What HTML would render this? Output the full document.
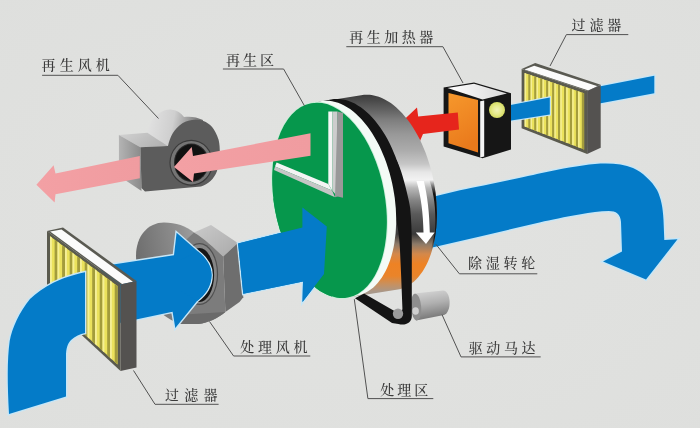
<!DOCTYPE html>
<html lang="zh-CN"><head><meta charset="utf-8"><title>转轮除湿机工作原理</title>
<style>html,body{margin:0;padding:0;background:#dfe0de;overflow:hidden}svg{display:block;filter:blur(0.55px)}</style></head>
<body>
<svg width="700" height="428" viewBox="0 0 700 428">
<defs>
<linearGradient id="gSilver" gradientUnits="userSpaceOnUse" x1="0" y1="92" x2="0" y2="292">
<stop offset="0.00" stop-color="#363636"/><stop offset="0.04" stop-color="#484848"/><stop offset="0.09" stop-color="#626262"/><stop offset="0.14" stop-color="#7e7e7e"/><stop offset="0.21" stop-color="#989898"/><stop offset="0.29" stop-color="#ababab"/><stop offset="0.36" stop-color="#c6c6c6"/><stop offset="0.40" stop-color="#e6e6e6"/><stop offset="0.44" stop-color="#f2f2f2"/><stop offset="0.48" stop-color="#b8b8b8"/><stop offset="0.54" stop-color="#858585"/><stop offset="0.61" stop-color="#5a5a5a"/><stop offset="0.71" stop-color="#3a3a3a"/><stop offset="0.76" stop-color="#8c7a68"/><stop offset="0.81" stop-color="#d4884a"/><stop offset="0.86" stop-color="#ee8224"/><stop offset="0.92" stop-color="#ea842a"/><stop offset="0.96" stop-color="#c8905e"/><stop offset="1.00" stop-color="#a8988a"/>
</linearGradient>
<linearGradient id="gStrip" gradientUnits="userSpaceOnUse" x1="0" y1="180" x2="0" y2="250">
<stop offset="0" stop-color="#111" stop-opacity="0"/><stop offset="0.2" stop-color="#111" stop-opacity="1"/><stop offset="0.8" stop-color="#111" stop-opacity="1"/><stop offset="1" stop-color="#111" stop-opacity="0"/>
</linearGradient>
<linearGradient id="gPink" x1="0" y1="0" x2="1" y2="0"><stop offset="0" stop-color="#f3a0a4"/><stop offset="1" stop-color="#f09ca0"/></linearGradient>
<linearGradient id="gFan1Top" x1="0" y1="0" x2="1" y2="0.4"><stop offset="0" stop-color="#d2d2d2"/><stop offset="1" stop-color="#b4b4b4"/></linearGradient>
<linearGradient id="gFan1Hump" gradientUnits="userSpaceOnUse" x1="150" y1="120" x2="200" y2="130"><stop offset="0" stop-color="#e0e0e0"/><stop offset="0.45" stop-color="#cfcfcf"/><stop offset="0.75" stop-color="#9a9a9a"/><stop offset="1" stop-color="#6a6a6a"/></linearGradient>
<linearGradient id="gFan1Side" x1="0" y1="0" x2="1" y2="0"><stop offset="0" stop-color="#b4b4b4"/><stop offset="1" stop-color="#8a8a8a"/></linearGradient>
<linearGradient id="gFan2" x1="0" y1="0.3" x2="1" y2="0"><stop offset="0" stop-color="#6e6e6e"/><stop offset="0.6" stop-color="#8e8e8e"/><stop offset="1" stop-color="#a8a8a8"/></linearGradient>
<linearGradient id="gFan2Top" x1="0" y1="0" x2="1" y2="1"><stop offset="0" stop-color="#cacaca"/><stop offset="1" stop-color="#aaaaaa"/></linearGradient>
<linearGradient id="gMotor" x1="0" y1="0" x2="0.2" y2="1"><stop offset="0" stop-color="#d8d8d8"/><stop offset="0.5" stop-color="#b0b0b0"/><stop offset="1" stop-color="#777"/></linearGradient>
<linearGradient id="gVr" x1="0" y1="0" x2="0" y2="1"><stop offset="0" stop-color="#b8b8b8"/><stop offset="1" stop-color="#8a8a8a"/></linearGradient>
<radialGradient id="gLamp"><stop offset="0" stop-color="#f1f2b8"/><stop offset="0.55" stop-color="#e6ea8c"/><stop offset="1" stop-color="#d6dc62"/></radialGradient>
<linearGradient id="gTopW" x1="0" y1="0" x2="1" y2="0"><stop offset="0" stop-color="#ffffff"/><stop offset="1" stop-color="#d8d8d8"/></linearGradient>
<linearGradient id="gOrange" x1="0" y1="0" x2="0.3" y2="1"><stop offset="0" stop-color="#f6982c"/><stop offset="1" stop-color="#ea7a1c"/></linearGradient>
<radialGradient id="gBg" cx="0.5" cy="0.5" r="0.75"><stop offset="0" stop-color="#e2e3e1"/><stop offset="1" stop-color="#dedfdd"/></radialGradient>
</defs>
<rect width="700" height="428" fill="url(#gBg)"/>
<polygon points="598,86.8 654.3,75.8 654.3,93.3 598,103.8" fill="#047bc8" stroke="#c6e6f7" stroke-width="2.6" paint-order="stroke"/>
<polygon points="521.6,69.1 535.2,62.89 600.7,84.8 587.1,91" fill="#5a5a52"/>
<polygon points="524.5,69.5 534.2,65.7 597.7,86.2 588.5,90.4" fill="#fbfbfb"/>
<polygon points="587.1,91 600.7,84.8 600.7,147.8 587.1,154" fill="#545250"/>
<polygon points="521.6,69.1 587.1,91 587.1,154 521.6,128.3" fill="#5a5a4e"/>
<polygon points="524.6,73.1 584.1,93.2 584.1,149.6 524.6,126.5" fill="#ebe25c"/>
<polygon points="528.3,74.4 530.6,75.1 530.6,128.8 528.3,127.9" fill="#a39c3c"/>
<polygon points="524.6,73.1 526.1,73.6 526.1,127.0 524.6,126.5" fill="#f5ef96"/>
<polygon points="534.2,76.4 536.5,77.1 536.5,131.1 534.2,130.2" fill="#a39c3c"/>
<polygon points="530.6,75.1 532.0,75.6 532.0,129.4 530.6,128.8" fill="#f5ef96"/>
<polygon points="540.2,78.4 542.5,79.1 542.5,133.4 540.2,132.5" fill="#a39c3c"/>
<polygon points="536.5,77.1 538.0,77.6 538.0,131.7 536.5,131.1" fill="#f5ef96"/>
<polygon points="546.1,80.4 548.4,81.1 548.4,135.7 546.1,134.9" fill="#a39c3c"/>
<polygon points="542.5,79.1 543.9,79.6 543.9,134.0 542.5,133.4" fill="#f5ef96"/>
<polygon points="552.1,82.4 554.4,83.1 554.4,138.1 552.1,137.2" fill="#a39c3c"/>
<polygon points="548.4,81.1 549.9,81.6 549.9,136.3 548.4,135.7" fill="#f5ef96"/>
<polygon points="558.0,84.4 560.3,85.2 560.3,140.4 558.0,139.5" fill="#a39c3c"/>
<polygon points="554.4,83.1 555.8,83.6 555.8,138.6 554.4,138.1" fill="#f5ef96"/>
<polygon points="564.0,86.4 566.2,87.2 566.2,142.7 564.0,141.8" fill="#a39c3c"/>
<polygon points="560.3,85.2 561.8,85.7 561.8,141.0 560.3,140.4" fill="#f5ef96"/>
<polygon points="569.9,88.4 572.2,89.2 572.2,145.0 569.9,144.1" fill="#a39c3c"/>
<polygon points="566.2,87.2 567.7,87.7 567.7,143.3 566.2,142.7" fill="#f5ef96"/>
<polygon points="575.9,90.4 578.1,91.2 578.1,147.3 575.9,146.4" fill="#a39c3c"/>
<polygon points="572.2,89.2 573.7,89.7 573.7,145.6 572.2,145.0" fill="#f5ef96"/>
<polygon points="581.8,92.4 584.1,93.2 584.1,149.6 581.8,148.8" fill="#a39c3c"/>
<polygon points="578.1,91.2 579.6,91.7 579.6,147.9 578.1,147.3" fill="#f5ef96"/>
<polygon points="508,105.5 549.8,97.4 549.8,114.6 508,121" fill="#047bc8" stroke="#c6e6f7" stroke-width="2.2" paint-order="stroke"/>
<polygon points="443.6,87.5 474,82.6 511,93.2 511,149.5 482.5,158.2 443.6,146.4" fill="#161616"/>
<polygon points="447.5,88 474,83.8 507,93.4 482.5,99.6" fill="url(#gTopW)"/>
<polygon points="448.5,93 478,100 478,152.5 448.5,143.3" fill="url(#gOrange)"/>
<polygon points="480.2,101.2 484.2,100.4 484.2,156.4 480.2,157.6" fill="#f4f4f4"/>
<circle cx="497" cy="110" r="8" fill="url(#gLamp)"/>
<polygon points="403.7,120 417,107.5 418.2,116.6 457.8,112.4 459,129.4 423,134 420,141" fill="#e6251c"/>
<path d="M430,197.5 L460,190.2 C480,186.5 520,178 540.5,173.3 C560,169 580,165.3 595,164 C610,162.8 623,164 633,168 C642,172 652,181 657,190 C661,198 663,208 663.5,220 L664.3,240 L677.5,239.3 L646,279.5 L603,261.5 L622,251.5 L621,222 C620.5,214 616,211 608.8,211 C600,211 590,212.3 580.7,214.3 C565,217 550,220 540.5,222.3 L480,236.4 L430,248 Z" fill="#047bc8" stroke="#c6e6f7" stroke-width="2.8" paint-order="stroke"/>
<path d="M272.1,180.1 L272.2,175.2 L272.4,170.3 L272.7,165.4 L273.3,160.7 L273.9,156.1 L274.7,151.6 L275.7,147.2 L276.8,143.0 L278.1,138.9 L279.5,135.1 L281.0,131.3 L282.7,127.8 L284.5,124.5 L286.4,121.4 L288.5,118.5 L290.6,115.8 L292.9,113.4 L295.2,111.1 L297.7,109.2 L300.2,107.5 L302.9,106.0 L305.6,104.8 L308.3,103.9 L311.1,103.2 L361.1,95.2 L364.0,94.8 L366.9,94.7 L369.9,94.8 L372.8,95.2 L375.8,95.9 L378.8,96.8 L381.8,98.0 L384.8,99.4 L387.8,101.2 L390.8,103.1 L393.7,105.3 L396.6,107.7 L399.4,110.4 L402.2,113.3 L404.9,116.4 L407.6,119.7 L410.2,123.3 L412.7,127.0 L415.1,130.9 L417.4,134.9 L419.6,139.1 L421.7,143.5 L423.6,148.0 L425.5,152.6 L427.2,157.3 L428.8,162.2 L430.3,167.1 L431.6,172.0 L432.8,177.1 L433.8,182.1 L434.7,187.2 L435.5,192.3 L436.0,197.5 L436.5,202.6 L436.7,207.6 L436.9,212.7 L436.8,217.6 L436.6,222.5 L436.3,227.4 L435.7,232.1 L435.1,236.7 L434.3,241.2 L433.3,245.6 L432.2,249.8 L430.9,253.9 L429.5,257.7 L428.0,261.5 L426.3,265.0 L424.5,268.3 L422.6,271.4 L420.5,274.3 L418.4,277.0 L416.1,279.4 L413.8,281.7 L411.3,283.6 L408.8,285.3 L406.1,286.8 L403.4,288.0 L400.7,288.9 L397.9,289.6 L347.9,297.6 L345.0,298.0 L342.1,298.1 L339.1,298.0 L336.2,297.6 L333.2,296.9 L330.2,296.0 L327.2,294.8 L324.2,293.4 L321.2,291.6 L318.2,289.7 L315.3,287.5 L312.4,285.1 L309.6,282.4 L306.8,279.5 L304.1,276.4 L301.4,273.1 L298.8,269.5 L296.3,265.8 L293.9,261.9 L291.6,257.9 L289.4,253.7 L287.3,249.3 L285.4,244.8 L283.5,240.2 L281.8,235.5 L280.2,230.6 L278.7,225.7 L277.4,220.8 L276.2,215.7 L275.2,210.7 L274.3,205.6 L273.5,200.5 L273.0,195.3 L272.5,190.2 L272.3,185.2Z" fill="url(#gSilver)"/>
<clipPath id="cSilver"><path d="M272.1,180.1 L272.2,175.2 L272.4,170.3 L272.7,165.4 L273.3,160.7 L273.9,156.1 L274.7,151.6 L275.7,147.2 L276.8,143.0 L278.1,138.9 L279.5,135.1 L281.0,131.3 L282.7,127.8 L284.5,124.5 L286.4,121.4 L288.5,118.5 L290.6,115.8 L292.9,113.4 L295.2,111.1 L297.7,109.2 L300.2,107.5 L302.9,106.0 L305.6,104.8 L308.3,103.9 L311.1,103.2 L361.1,95.2 L364.0,94.8 L366.9,94.7 L369.9,94.8 L372.8,95.2 L375.8,95.9 L378.8,96.8 L381.8,98.0 L384.8,99.4 L387.8,101.2 L390.8,103.1 L393.7,105.3 L396.6,107.7 L399.4,110.4 L402.2,113.3 L404.9,116.4 L407.6,119.7 L410.2,123.3 L412.7,127.0 L415.1,130.9 L417.4,134.9 L419.6,139.1 L421.7,143.5 L423.6,148.0 L425.5,152.6 L427.2,157.3 L428.8,162.2 L430.3,167.1 L431.6,172.0 L432.8,177.1 L433.8,182.1 L434.7,187.2 L435.5,192.3 L436.0,197.5 L436.5,202.6 L436.7,207.6 L436.9,212.7 L436.8,217.6 L436.6,222.5 L436.3,227.4 L435.7,232.1 L435.1,236.7 L434.3,241.2 L433.3,245.6 L432.2,249.8 L430.9,253.9 L429.5,257.7 L428.0,261.5 L426.3,265.0 L424.5,268.3 L422.6,271.4 L420.5,274.3 L418.4,277.0 L416.1,279.4 L413.8,281.7 L411.3,283.6 L408.8,285.3 L406.1,286.8 L403.4,288.0 L400.7,288.9 L397.9,289.6 L347.9,297.6 L345.0,298.0 L342.1,298.1 L339.1,298.0 L336.2,297.6 L333.2,296.9 L330.2,296.0 L327.2,294.8 L324.2,293.4 L321.2,291.6 L318.2,289.7 L315.3,287.5 L312.4,285.1 L309.6,282.4 L306.8,279.5 L304.1,276.4 L301.4,273.1 L298.8,269.5 L296.3,265.8 L293.9,261.9 L291.6,257.9 L289.4,253.7 L287.3,249.3 L285.4,244.8 L283.5,240.2 L281.8,235.5 L280.2,230.6 L278.7,225.7 L277.4,220.8 L276.2,215.7 L275.2,210.7 L274.3,205.6 L273.5,200.5 L273.0,195.3 L272.5,190.2 L272.3,185.2Z"/></clipPath>
<path d="M428,176 C434,192 436.5,210 435,232 L431,250 L445,250 L445,176 Z" fill="url(#gStrip)" clip-path="url(#cSilver)"/>
<path d="M414,293.5 L443,290.6 C451.5,291 451.8,312.5 444,315 L416,320.5 Z" fill="url(#gMotor)"/>
<ellipse cx="416" cy="307" rx="5.2" ry="13.4" transform="rotate(-4 416 307)" fill="#8e8e8e"/>
<ellipse cx="415.6" cy="311" rx="3.3" ry="3.8" fill="#cfcfcf"/>
<clipPath id="cBlack"><rect x="250" y="80" width="200" height="100"/></clipPath>
<path d="M272.1,180.1 L272.2,175.2 L272.4,170.3 L272.7,165.4 L273.3,160.7 L273.9,156.1 L274.7,151.6 L275.7,147.2 L276.8,143.0 L278.1,138.9 L279.5,135.1 L281.0,131.3 L282.7,127.8 L284.5,124.5 L286.4,121.4 L288.5,118.5 L290.6,115.8 L292.9,113.4 L295.2,111.1 L297.7,109.2 L300.2,107.5 L302.9,106.0 L305.6,104.8 L308.3,103.9 L311.1,103.2 L331.1,99.4 L334.0,99.0 L336.9,98.9 L339.9,99.0 L342.8,99.4 L345.8,100.1 L348.8,101.0 L351.8,102.2 L354.8,103.6 L357.8,105.4 L360.8,107.3 L363.7,109.5 L366.6,111.9 L369.4,114.6 L372.2,117.5 L374.9,120.6 L377.6,123.9 L380.2,127.5 L382.7,131.2 L385.1,135.1 L387.4,139.1 L389.6,143.3 L391.7,147.7 L393.6,152.2 L395.5,156.8 L397.2,161.5 L398.8,166.4 L400.3,171.3 L401.6,176.2 L402.8,181.3 L403.8,186.3 L404.7,191.4 L405.5,196.5 L406.0,201.7 L406.5,206.8 L406.7,211.8 L406.9,216.9 L406.8,221.8 L406.6,226.7 L406.3,231.6 L405.7,236.3 L405.1,240.9 L404.3,245.4 L403.3,249.8 L402.2,254.0 L400.9,258.1 L399.5,261.9 L398.0,265.7 L396.3,269.2 L394.5,272.5 L392.6,275.6 L390.5,278.5 L388.4,281.2 L386.1,283.6 L383.8,285.9 L381.3,287.8 L378.8,289.5 L376.1,291.0 L373.4,292.2 L370.7,293.1 L367.9,293.8 L347.9,297.6 L345.0,298.0 L342.1,298.1 L339.1,298.0 L336.2,297.6 L333.2,296.9 L330.2,296.0 L327.2,294.8 L324.2,293.4 L321.2,291.6 L318.2,289.7 L315.3,287.5 L312.4,285.1 L309.6,282.4 L306.8,279.5 L304.1,276.4 L301.4,273.1 L298.8,269.5 L296.3,265.8 L293.9,261.9 L291.6,257.9 L289.4,253.7 L287.3,249.3 L285.4,244.8 L283.5,240.2 L281.8,235.5 L280.2,230.6 L278.7,225.7 L277.4,220.8 L276.2,215.7 L275.2,210.7 L274.3,205.6 L273.5,200.5 L273.0,195.3 L272.5,190.2 L272.3,185.2Z" fill="#141414" clip-path="url(#cBlack)"/>
<path d="M385,160 L396.5,160 C399,165 400,168 401.3,172 C405,184 408.5,198 410.2,208 C411.3,220 411.8,232 411.8,245 L411.8,316 C411.8,323 405,326 398.5,324 C396,323.6 394,323.6 392,323 L355,298.3 L364,293.5 L397,312.5 C401,313.5 402.6,311 402.4,308 L401.2,277 L400,250 C399.5,238 398,225 394,212 Z" fill="#141414"/>
<circle cx="398" cy="313.8" r="5.2" fill="#9c9c9c"/>
<path d="M272.1,180.1 L272.2,175.2 L272.4,170.3 L272.7,165.4 L273.3,160.7 L273.9,156.1 L274.7,151.6 L275.7,147.2 L276.8,143.0 L278.1,138.9 L279.5,135.1 L281.0,131.3 L282.7,127.8 L284.5,124.5 L286.4,121.4 L288.5,118.5 L290.6,115.8 L292.9,113.4 L295.2,111.1 L297.7,109.2 L300.2,107.5 L302.9,106.0 L305.6,104.8 L308.3,103.9 L311.1,103.2 L320.4,101.2 L323.3,100.8 L326.2,100.7 L329.2,100.8 L332.1,101.2 L335.1,101.9 L338.1,102.8 L341.1,104.0 L344.1,105.4 L347.1,107.2 L350.1,109.1 L353.0,111.3 L355.9,113.7 L358.7,116.4 L361.5,119.3 L364.2,122.4 L366.9,125.7 L369.5,129.3 L372.0,133.0 L374.4,136.9 L376.7,140.9 L378.9,145.1 L381.0,149.5 L382.9,154.0 L384.8,158.6 L386.5,163.3 L388.1,168.2 L389.6,173.1 L390.9,178.0 L392.1,183.1 L393.1,188.1 L394.0,193.2 L394.8,198.3 L395.3,203.5 L395.8,208.6 L396.0,213.6 L396.2,218.7 L396.1,223.6 L395.9,228.5 L395.6,233.4 L395.0,238.1 L394.4,242.7 L393.6,247.2 L392.6,251.6 L391.5,255.8 L390.2,259.9 L388.8,263.7 L387.3,267.5 L385.6,271.0 L383.8,274.3 L381.9,277.4 L379.8,280.3 L377.7,283.0 L375.4,285.4 L373.1,287.7 L370.6,289.6 L368.1,291.3 L365.4,292.8 L362.7,294.0 L360.0,294.9 L357.2,295.6 L347.9,297.6 L345.0,298.0 L342.1,298.1 L339.1,298.0 L336.2,297.6 L333.2,296.9 L330.2,296.0 L327.2,294.8 L324.2,293.4 L321.2,291.6 L318.2,289.7 L315.3,287.5 L312.4,285.1 L309.6,282.4 L306.8,279.5 L304.1,276.4 L301.4,273.1 L298.8,269.5 L296.3,265.8 L293.9,261.9 L291.6,257.9 L289.4,253.7 L287.3,249.3 L285.4,244.8 L283.5,240.2 L281.8,235.5 L280.2,230.6 L278.7,225.7 L277.4,220.8 L276.2,215.7 L275.2,210.7 L274.3,205.6 L273.5,200.5 L273.0,195.3 L272.5,190.2 L272.3,185.2Z" fill="#f4fbf6"/>
<ellipse cx="329.5" cy="200.4" rx="55.3" ry="98.9" transform="rotate(-10.7 329.5 200.4)" fill="#06974c" stroke="#c9efd9" stroke-width="1.6"/>
<ellipse cx="329.5" cy="200.4" rx="55.3" ry="98.9" transform="rotate(-10.7 329.5 200.4)" fill="#06974c"/>
<path d="M416.5,181 C421,196 423.2,214 423.5,232.6 L415.8,232.6 L426,244 L434.6,232.6 L429.8,232.6 C429.5,214 427.5,196 423.8,181 Z" fill="#fff"/>
<polygon points="276.6,162.5 328.3,184 332,190.5 275,166.5" fill="#f4f4f4"/>
<polygon points="275,166.5 332,190.5 335,197.2 274,170" fill="#c6c6c6"/>
<polygon points="328.3,111.5 332.5,111.5 332.5,191 328.3,184" fill="#f6f6f6"/>
<polygon points="332.5,111.5 337.5,111.5 337.5,196.5 332.5,191" fill="#cdcdcd"/>
<polygon points="337.5,111.5 343,113 343,197.7 337.5,196.5 335,197.2" fill="#999"/>
<path d="M147.4,132.7 C149,124 153,117 159,113.5 C163,110.5 168,109 172,109.8 C177,110.5 181,113 184,117 C190,116 197,117 203,120 L200,150 L166,147 L150,140 Z" fill="url(#gFan1Hump)"/>
<path d="M118.9,135 L147.4,132.7 C152,136 160,141 168,146 L140.4,147.3 Z" fill="url(#gFan1Top)"/>
<polygon points="118.9,135 140.4,147.3 141.5,191 119,176" fill="url(#gFan1Side)"/>
<path d="M140.4,147.3 L168,146 C170,137 174,129 182.4,123.3 C188,120 196,118.6 203.4,121 C210,123.5 215,128.5 218.6,139.7 C220.5,148 220.3,160 217,171 C214,179 208,184.5 201,186.4 L145,191.5 L141.5,188 Z" fill="#5c5c5c"/>
<ellipse cx="191.2" cy="162.7" rx="21.8" ry="23" fill="#3a3a3a"/>
<ellipse cx="191.2" cy="162.7" rx="20.6" ry="21.8" fill="#757575"/>
<ellipse cx="191.4" cy="162.7" rx="17.4" ry="19.2" fill="#2a2a2a"/>
<ellipse cx="191.4" cy="162.7" rx="16.4" ry="18.2" fill="#121212"/>
<polygon points="174,167 191.7,147 193,156 310.5,133.3 310.5,155.8 194,173.6 193,182" fill="url(#gPink)"/>
<polygon points="36.4,184.8 53.6,165.2 55.5,173.6 139.8,155.9 139.8,178.3 55.5,194.2 54.6,202.6" fill="url(#gPink)"/>
<path d="M136,256 C136,236 148,222.5 164,222.5 C176,222.5 186,226 194,232.5 L205,290 L185,324 C160,322 136,290 136,256 Z" fill="url(#gFan2)"/>
<path d="M194,232.5 L211,225 L237.8,243 L223.2,256.5 C214,248 204,238 194,232.5 Z" fill="url(#gFan2Top)"/>
<polygon points="223.2,256.5 237.8,243 243.3,297.2 239.5,302 225.4,312" fill="#6e6e6e"/>
<path d="M194,232.5 C204,238 214,248 223.2,256.5 L225.4,312 C218,318 208,323 198.4,324 L180.4,324 C178,318 176,312 175,305 L175,250 Z" fill="#7c7c7c"/>
<path d="M176,315 L225.4,312 C218,318 208,323 198.4,324 L180.4,324 Z" fill="#6a6a6a"/>
<ellipse cx="199.5" cy="274" rx="18.6" ry="31" fill="#505050"/>
<ellipse cx="199.5" cy="274" rx="17.4" ry="29.8" fill="#858585"/>
<ellipse cx="199.5" cy="275" rx="14.6" ry="27" fill="#161616"/>
<path d="M100,266.5 L174,255.2 L176.6,232.7 L198,251.5 C205,257 211.5,265 211.5,275 C211.5,286 205,295 197,301 L175.3,328 L172.6,311.7 L110,325 Z" fill="#047bc8" stroke="#c6e6f7" stroke-width="2.8" paint-order="stroke"/>
<path d="M198,251.5 C205,257 211.5,265 211.5,275 C211.5,286 205,295 197,301 L180,290 L180,260 Z" fill="#047bc8"/>
<polygon points="47,231 63,227.4 136.5,280.9 120.5,284.5" fill="#5a5a52"/>
<polygon points="50.1,231.6 61.5,229.6 133.0,281.7 122.1,284.1" fill="#fbfbfb"/>
<polygon points="120.5,284.5 136.5,280.9 136.5,367.4 120.5,371" fill="#545250"/>
<polygon points="47,231 120.5,284.5 120.5,371 47,303" fill="#5a5a4e"/>
<polygon points="50.0,236.2 117.5,285.9 117.5,364.6 50.0,302.8" fill="#ebe25c"/>
<polygon points="54.6,239.6 57.5,241.7 57.5,309.6 54.6,307.0" fill="#a39c3c"/>
<polygon points="50.0,236.2 51.9,237.6 51.9,304.5 50.0,302.8" fill="#f5ef96"/>
<polygon points="62.1,245.2 65.0,247.2 65.0,316.5 62.1,313.9" fill="#a39c3c"/>
<polygon points="57.5,241.7 59.4,243.1 59.4,311.3 57.5,309.6" fill="#f5ef96"/>
<polygon points="69.7,250.7 72.5,252.8 72.5,323.4 69.7,320.8" fill="#a39c3c"/>
<polygon points="65.0,247.2 66.9,248.6 66.9,318.2 65.0,316.5" fill="#f5ef96"/>
<polygon points="77.2,256.2 80.0,258.3 80.0,330.3 77.2,327.6" fill="#a39c3c"/>
<polygon points="72.5,252.8 74.4,254.2 74.4,325.1 72.5,323.4" fill="#f5ef96"/>
<polygon points="84.7,261.7 87.5,263.8 87.5,337.1 84.7,334.5" fill="#a39c3c"/>
<polygon points="80.0,258.3 81.9,259.7 81.9,332.0 80.0,330.3" fill="#f5ef96"/>
<polygon points="92.2,267.2 95.0,269.3 95.0,344.0 92.2,341.4" fill="#a39c3c"/>
<polygon points="87.5,263.8 89.4,265.2 89.4,338.9 87.5,337.1" fill="#f5ef96"/>
<polygon points="99.7,272.8 102.5,274.9 102.5,350.9 99.7,348.3" fill="#a39c3c"/>
<polygon points="95.0,269.3 96.9,270.7 96.9,345.7 95.0,344.0" fill="#f5ef96"/>
<polygon points="107.2,278.3 110.0,280.4 110.0,357.8 107.2,355.2" fill="#a39c3c"/>
<polygon points="102.5,274.9 104.4,276.2 104.4,352.6 102.5,350.9" fill="#f5ef96"/>
<polygon points="114.7,283.8 117.5,285.9 117.5,364.6 114.7,362.0" fill="#a39c3c"/>
<polygon points="110.0,280.4 111.9,281.8 111.9,359.5 110.0,357.8" fill="#f5ef96"/>
<path d="M9,414 C7.5,385 7,360 9.7,341 C12,328 19.4,312 30,299 C36,293 44,287.5 53.4,282.7 C62,278.5 72,275 85,272.2 L85,333 C80,334 75,336.5 71,340 C67.5,343.5 66,349 66,356 L66,396.4 Z" fill="#047bc8" stroke="#c6e6f7" stroke-width="2.8" paint-order="stroke"/>
<clipPath id="cA2"><polygon points="200,180 326.8,180 326.8,226.5 324,274 322,330 200,330"/></clipPath>
<polygon clip-path="url(#cA2)" points="238.1,243.4 302.4,227.6 302.4,207.4 326.8,226.5 324,274 302.5,302 303,281.5 243.3,293.7" fill="#047bc8" stroke="#c6e6f7" stroke-width="2.8" paint-order="stroke"/>
<clipPath id="cG2"><rect x="270" y="198.5" width="62" height="112"/></clipPath>
<g clip-path="url(#cG2)"><ellipse cx="329.5" cy="200.4" rx="55.3" ry="98.9" transform="rotate(-10.7 329.5 200.4)" fill="#06974c"/></g>
<polygon points="238.1,243.4 302.4,227.6 302.4,207.4 326.8,226.5 324,274 302.5,302 303,281.5 243.3,293.7" fill="#047bc8"/>
<g font-family="&quot;Liberation Serif&quot;, &quot;Noto Serif CJK SC&quot;, serif" font-weight="500" font-size="14" fill="#3a3a3a" opacity="0.99">
<polyline points="42.1,75.3 117.9,75.3 158.5,118.5" fill="none" stroke="#505050" stroke-width="1"/>
<text x="41.6" y="69.9" letter-spacing="4.06">再生风机</text>
<polyline points="222.9,69 283.6,69 304.5,105.9" fill="none" stroke="#505050" stroke-width="1"/>
<text x="225.9" y="64.7" letter-spacing="3.09">再生区</text>
<polyline points="346.3,46.7 442.9,46.7 463,83" fill="none" stroke="#505050" stroke-width="1"/>
<text x="349.2" y="41.7" letter-spacing="3.50">再生加热器</text>
<polyline points="628.3,34.6 566.4,34.6 550,66" fill="none" stroke="#505050" stroke-width="1"/>
<text x="571.6" y="29.9" letter-spacing="3.79">过滤器</text>
<polyline points="537.3,273.8 459.4,273.8 436,244.4" fill="none" stroke="#505050" stroke-width="1"/>
<text x="468.0" y="267.7" letter-spacing="3.73">除湿转轮</text>
<polyline points="540.7,356.9 461,356.9 442,314.6" fill="none" stroke="#505050" stroke-width="1"/>
<text x="468.8" y="352.7" letter-spacing="3.56">驱动马达</text>
<polyline points="433.3,398.6 367.9,398.6 354.3,299.2" fill="none" stroke="#505050" stroke-width="1"/>
<text x="380.2" y="394.9" letter-spacing="3.09">处理区</text>
<polyline points="310.3,356 233.6,356 209.5,321.5" fill="none" stroke="#505050" stroke-width="1"/>
<text x="240.2" y="351.8" letter-spacing="3.79">处理风机</text>
<polyline points="218.6,404.3 155,404.3 133.5,370.5" fill="none" stroke="#505050" stroke-width="1"/>
<text x="164.9" y="399.5" letter-spacing="5.34">过滤器</text>
</g>
</svg>
</body></html>
